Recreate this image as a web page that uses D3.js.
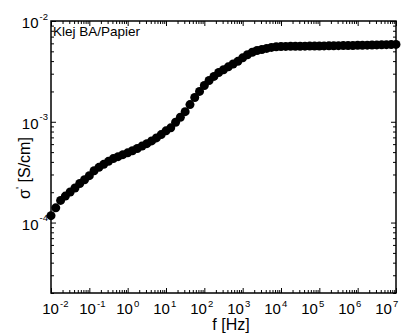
<!DOCTYPE html>
<html><head><meta charset="utf-8">
<script src="https://cdn.jsdelivr.net/npm/d3@7"></script>
<style>html,body{margin:0;padding:0;background:#fff;}svg{display:block;}</style>
</head><body>
<svg id="c" width="406" height="334"></svg>
<script>
const freq = [
  0.01,0.0133,0.0178,0.0237,0.0316,0.0422,0.0562,0.075,
  0.1,0.133,0.178,0.237,0.316,0.422,0.562,0.75,
  1,1.33,1.78,2.37,3.16,4.22,5.62,7.5,
  10,13.3,17.8,23.7,31.6,42.2,56.2,75,
  100,133,178,237,316,422,562,750,
  1e3,1.33e3,1.78e3,2.37e3,3.16e3,4.22e3,5.62e3,7.5e3,
  1e4,1.33e4,1.78e4,2.37e4,3.16e4,4.22e4,5.62e4,7.5e4,
  1e5,1.33e5,1.78e5,2.37e5,3.16e5,4.22e5,5.62e5,7.5e5,
  1e6,1.33e6,1.78e6,2.37e6,3.16e6,4.22e6,5.62e6,7.5e6,
  1e7
];
const sigma = [
  1.17e-4,1.40e-4,1.66e-4,1.83e-4,2.01e-4,2.20e-4,2.44e-4,2.66e-4,
  2.92e-4,3.27e-4,3.53e-4,3.78e-4,4.05e-4,4.31e-4,4.51e-4,4.72e-4,
  4.92e-4,5.16e-4,5.43e-4,5.74e-4,6.07e-4,6.46e-4,6.92e-4,7.46e-4,
  8.13e-4,8.71e-4,9.89e-4,1.11e-3,1.26e-3,1.48e-3,1.74e-3,2.00e-3,
  2.29e-3,2.57e-3,2.82e-3,3.08e-3,3.28e-3,3.51e-3,3.74e-3,3.98e-3,
  4.31e-3,4.62e-3,4.90e-3,5.09e-3,5.22e-3,5.35e-3,5.47e-3,5.55e-3,
  5.58e-3,5.60e-3,5.61e-3,5.62e-3,5.62e-3,5.63e-3,5.64e-3,5.64e-3,
  5.65e-3,5.66e-3,5.67e-3,5.68e-3,5.69e-3,5.70e-3,5.71e-3,5.72e-3,
  5.74e-3,5.75e-3,5.76e-3,5.78e-3,5.79e-3,5.80e-3,5.82e-3,5.83e-3,
  5.86e-3
];
const xMajor = [1e-2,1e-1,1e0,1e1,1e2,1e3,1e4,1e5,1e6,1e7];
const xExp = ["-2","-1","0","1","2","3","4","5","6","7"];
const yMajor = [1e-2,1e-3,1e-4];
const yExp = ["-2","-3","-4"];
const sampleLabel = "Klej BA/Papier";
const xTitle = "f [Hz]";

const L=51, R=396, T=21, B=293;
const svg = d3.select("#c");
const x = d3.scaleLog().domain([1e-2,1e7]).range([L,R]);
const y = d3.scaleLog().domain([2e-5,1e-2]).range([B,T]);
const xLab = d3.scaleLog().domain([1e-2,1e7]).range([50.5,383.5]);

function minors(lo, hi){
  const out=[];
  for(let e=Math.floor(Math.log10(lo)); e<=Math.ceil(Math.log10(hi)); e++){
    for(let m=2;m<=9;m++){ const v=m*Math.pow(10,e); if(v>=lo*0.999 && v<=hi*1.001) out.push(v); }
  }
  return out;
}
const xMinor = minors(1e-2,1e7);
const yMinor = minors(2e-5,1e-2);

function axisAt(axisGen, tx, ty){
  const a = svg.append("g").attr("transform",`translate(${tx},${ty})`).call(axisGen);
  a.selectAll("text").remove();
  a.select(".domain").remove();
  a.selectAll("line").attr("stroke","#000").attr("stroke-width",1);
  return a;
}
axisAt(d3.axisBottom(x).tickValues(xMajor).tickSize(-5), 0, B);
axisAt(d3.axisBottom(x).tickValues(xMinor).tickSize(-3), 0, B);
axisAt(d3.axisTop(x).tickValues(xMajor).tickSize(-5), 0, T);
axisAt(d3.axisTop(x).tickValues(xMinor).tickSize(-3), 0, T);
axisAt(d3.axisLeft(y).tickValues(yMajor).tickSize(-5), L, 0);
axisAt(d3.axisLeft(y).tickValues(yMinor).tickSize(-3), L, 0);
axisAt(d3.axisRight(y).tickValues(yMajor).tickSize(-5), R, 0);
axisAt(d3.axisRight(y).tickValues(yMinor).tickSize(-3), R, 0);

svg.append("rect").attr("x",L).attr("y",T).attr("width",R-L).attr("height",B-T)
  .attr("fill","none").attr("stroke","#000").attr("stroke-width",1.5);

// data
svg.append("g").selectAll("circle").data(freq).join("circle")
  .attr("cx",(d)=>x(d)).attr("cy",(d,i)=>y(sigma[i])).attr("r",4.5).attr("fill","#000");

const font = "Arial, 'Liberation Sans', sans-serif";
xMajor.forEach((v,i)=>{
  const cx = xLab(v);
  svg.append("text").attr("x",cx).attr("y",314).attr("text-anchor","middle")
    .attr("font-family",font).attr("font-size",15).text("10");
  svg.append("text").attr("x",cx+9.5).attr("y",306.5).attr("text-anchor","start")
    .attr("font-family",font).attr("font-size",9.5).text(xExp[i]);
});
yMajor.forEach((v,i)=>{
  const ty = y(v);
  svg.append("text").attr("x",38.5).attr("y",ty+7.3).attr("text-anchor","end")
    .attr("font-family",font).attr("font-size",15).text("10");
  svg.append("text").attr("x",39.5).attr("y",ty-1.5).attr("text-anchor","start")
    .attr("font-family",font).attr("font-size",9.5).text(yExp[i]);
});
svg.append("text").attr("x",231).attr("y",329.5).attr("text-anchor","middle")
  .attr("font-family",font).attr("font-size",16).text(xTitle);
const yt = svg.append("text").attr("transform","translate(30,168) rotate(-90)")
  .attr("text-anchor","middle").attr("font-family",font).attr("font-size",16);
yt.append("tspan").text("σ");
yt.append("tspan").attr("dy",-6).attr("font-size",11).text("'");
yt.append("tspan").attr("dy",6).text(" [S/cm]");

svg.append("text").attr("x",53).attr("y",36).attr("font-family",font)
  .attr("font-size",13.5).text(sampleLabel);
</script>
</body></html>
